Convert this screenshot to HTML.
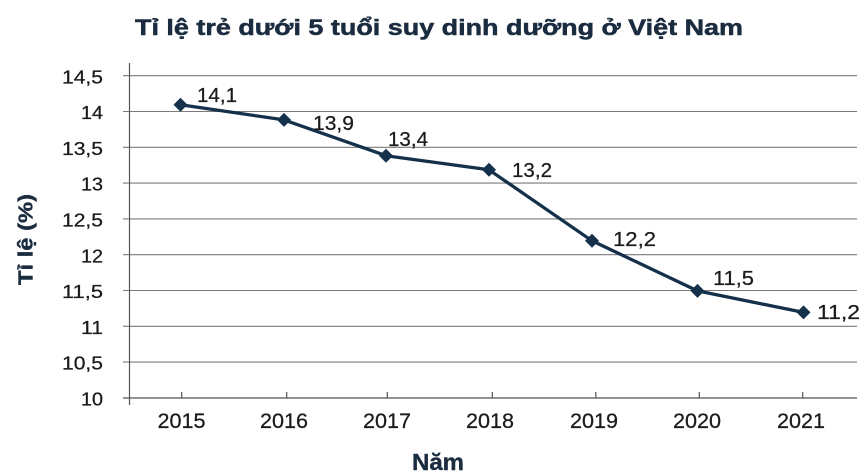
<!DOCTYPE html>
<html>
<head>
<meta charset="utf-8">
<style>
  html,body{margin:0;padding:0;background:#fff;}
  svg{display:block;}
  text{font-family:"Liberation Sans",Arial,sans-serif;}
</style>
</head>
<body>
<svg width="865" height="476" viewBox="0 0 865 476" xmlns="http://www.w3.org/2000/svg">
  <rect width="865" height="476" fill="#fff"/>
  <!-- Title -->
  <text x="135" y="35" font-size="22" font-weight="bold" fill="#1b2c40" stroke="#1b2c40" stroke-width="0.5" textLength="608" lengthAdjust="spacingAndGlyphs">Tỉ lệ trẻ dưới 5 tuổi suy dinh dưỡng ở Việt Nam</text>

  <!-- Gridlines -->
  <g stroke="#7a7a7a" stroke-width="1.1" fill="none">
    <line x1="123" y1="75.7" x2="857" y2="75.7"/>
    <line x1="123" y1="111.5" x2="857" y2="111.5"/>
    <line x1="123" y1="147.3" x2="857" y2="147.3"/>
    <line x1="123" y1="183.1" x2="857" y2="183.1"/>
    <line x1="123" y1="218.9" x2="857" y2="218.9"/>
    <line x1="123" y1="254.7" x2="857" y2="254.7"/>
    <line x1="123" y1="290.5" x2="857" y2="290.5"/>
    <line x1="123" y1="326.3" x2="857" y2="326.3"/>
    <line x1="123" y1="362.1" x2="857" y2="362.1"/>
  </g>
  <!-- Axes -->
  <g stroke="#555" stroke-width="1.2" fill="none">
    <line x1="123" y1="398" x2="857" y2="398"/>
    <line x1="129.5" y1="63" x2="129.5" y2="405"/>
    <line x1="181.7" y1="392" x2="181.7" y2="398"/>
    <line x1="286.7" y1="392" x2="286.7" y2="398"/>
    <line x1="387.3" y1="392" x2="387.3" y2="398"/>
    <line x1="492.3" y1="392" x2="492.3" y2="398"/>
    <line x1="595.8" y1="392" x2="595.8" y2="398"/>
    <line x1="699.3" y1="392" x2="699.3" y2="398"/>
    <line x1="802.7" y1="392" x2="802.7" y2="398"/>
  </g>

  <!-- Y tick labels -->
  <g font-size="18.5" fill="#1a1a1a" stroke="#1a1a1a" stroke-width="0.25" text-anchor="end">
    <text x="103" y="83.3" textLength="41" lengthAdjust="spacingAndGlyphs">14,5</text>
    <text x="103" y="119.1" textLength="22" lengthAdjust="spacingAndGlyphs">14</text>
    <text x="103" y="154.9" textLength="41" lengthAdjust="spacingAndGlyphs">13,5</text>
    <text x="103" y="190.7" textLength="22" lengthAdjust="spacingAndGlyphs">13</text>
    <text x="103" y="226.5" textLength="41" lengthAdjust="spacingAndGlyphs">12,5</text>
    <text x="103" y="262.3" textLength="22" lengthAdjust="spacingAndGlyphs">12</text>
    <text x="103" y="298.1" textLength="41" lengthAdjust="spacingAndGlyphs">11,5</text>
    <text x="103" y="333.9" textLength="22" lengthAdjust="spacingAndGlyphs">11</text>
    <text x="103" y="369.7" textLength="41" lengthAdjust="spacingAndGlyphs">10,5</text>
    <text x="103" y="405.5" textLength="22" lengthAdjust="spacingAndGlyphs">10</text>
  </g>

  <!-- X tick labels -->
  <g font-size="21" fill="#1a1a1a" stroke="#1a1a1a" stroke-width="0.25" text-anchor="middle">
    <text x="181.5" y="428" textLength="48" lengthAdjust="spacingAndGlyphs">2015</text>
    <text x="284" y="428" textLength="48" lengthAdjust="spacingAndGlyphs">2016</text>
    <text x="387" y="428" textLength="48" lengthAdjust="spacingAndGlyphs">2017</text>
    <text x="490" y="428" textLength="48" lengthAdjust="spacingAndGlyphs">2018</text>
    <text x="594" y="428" textLength="48" lengthAdjust="spacingAndGlyphs">2019</text>
    <text x="697" y="428" textLength="48" lengthAdjust="spacingAndGlyphs">2020</text>
    <text x="801" y="428" textLength="48" lengthAdjust="spacingAndGlyphs">2021</text>
  </g>

  <!-- Axis titles -->
  <text x="438" y="470" font-size="23" font-weight="bold" fill="#1b2c40" stroke="#1b2c40" stroke-width="0.4" text-anchor="middle" textLength="52" lengthAdjust="spacingAndGlyphs">Năm</text>
  <text transform="translate(32.5,239.5) rotate(-90)" x="0" y="0" font-size="20" font-weight="bold" fill="#1b2c40" stroke="#1b2c40" stroke-width="0.4" text-anchor="middle" textLength="91" lengthAdjust="spacingAndGlyphs">Tỉ lệ (%)</text>

  <!-- Series -->
  <polyline fill="none" stroke="#14304a" stroke-width="3.3" stroke-linejoin="round"
    points="180.5,104.7 284,119.9 386,155.7 489,169.8 592,240.8 697.5,290.9 803.5,312.4"/>
  <g fill="#14304a">
    <polygon points="180.5,97.7 187.5,104.7 180.5,111.7 173.5,104.7"/>
    <polygon points="284,112.9 291,119.9 284,126.9 277,119.9"/>
    <polygon points="386,148.7 393,155.7 386,162.7 379,155.7"/>
    <polygon points="489,162.8 496,169.8 489,176.8 482,169.8"/>
    <polygon points="592,233.8 599,240.8 592,247.8 585,240.8"/>
    <polygon points="697.5,283.9 704.5,290.9 697.5,297.9 690.5,290.9"/>
    <polygon points="803.5,305.4 810.5,312.4 803.5,319.4 796.5,312.4"/>
  </g>

  <!-- Data labels -->
  <g font-size="20.5" fill="#1a1a1a" stroke="#1a1a1a" stroke-width="0.25">
    <text x="197" y="102" textLength="40" lengthAdjust="spacingAndGlyphs">14,1</text>
    <text x="313" y="130" textLength="41" lengthAdjust="spacingAndGlyphs">13,9</text>
    <text x="388" y="146" textLength="40" lengthAdjust="spacingAndGlyphs">13,4</text>
    <text x="512" y="177" textLength="40" lengthAdjust="spacingAndGlyphs">13,2</text>
    <text x="613" y="246" textLength="43" lengthAdjust="spacingAndGlyphs">12,2</text>
    <text x="713" y="285" textLength="41" lengthAdjust="spacingAndGlyphs">11,5</text>
    <text x="817" y="319" textLength="43" lengthAdjust="spacingAndGlyphs">11,2</text>
  </g>
</svg>
</body>
</html>
